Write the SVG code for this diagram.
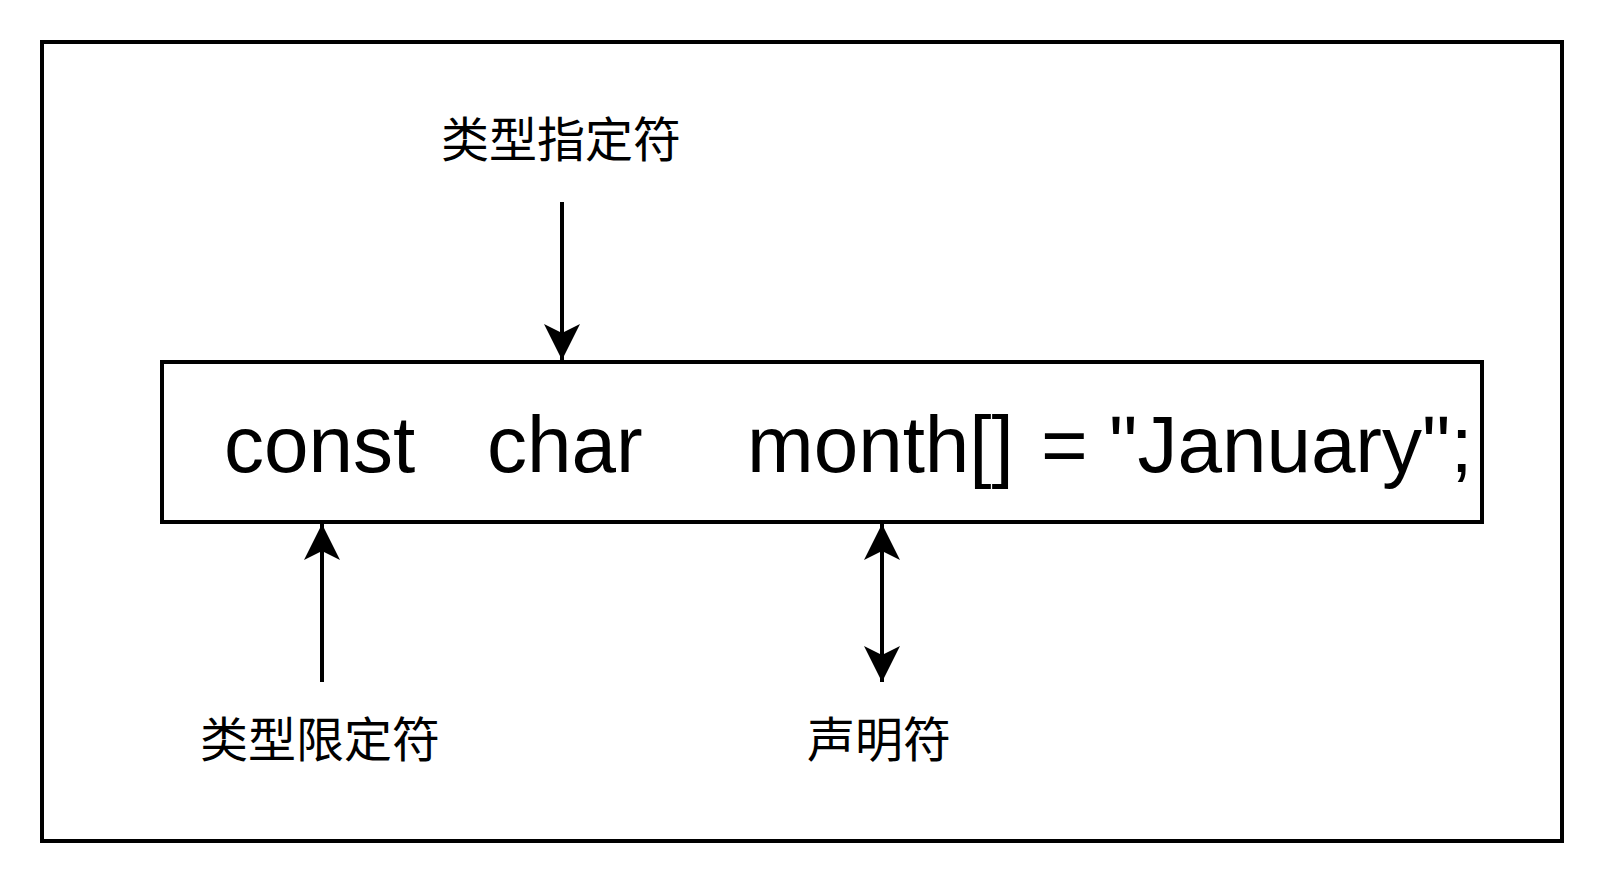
<svg xmlns="http://www.w3.org/2000/svg" width="1604" height="884" viewBox="0 0 1604 884">
<style>
.box{fill:#fff;stroke:#000;stroke-width:4}
.code{font-family:"Liberation Sans",Arial,sans-serif;font-size:80px;fill:#000}
.lbl{font-family:"Noto Sans CJK SC","Liberation Sans",sans-serif;font-size:48px;font-weight:400;fill:#000;text-anchor:middle}
.edge{stroke:#000;stroke-width:4;fill:none}
</style>
<defs>
<marker id="ah" markerUnits="userSpaceOnUse" viewBox="0 0 40 40" refX="36" refY="20" markerWidth="40" markerHeight="40" orient="auto-start-reverse">
<path d="M0,2 L36,20 L0,38 L9,20 Z" fill="#000"/>
</marker>
</defs>
<rect width="1604" height="884" fill="#fff"/>
<g id="frame"><rect class="box" x="42" y="42" width="1520" height="799"/></g>
<g id="code">
<rect class="box" x="162" y="362" width="1320" height="160"/>
<text class="code" y="472"><tspan x="224">const</tspan><tspan x="487">char</tspan><tspan x="747">month[]</tspan><tspan x="1041">=</tspan><tspan x="1109">"January";</tspan></text>
</g>
<g id="spec"><text class="lbl" x="561" y="157">类型指定符</text></g>
<g id="qual"><text class="lbl" x="320" y="757">类型限定符</text></g>
<g id="decl"><text class="lbl" x="879" y="757">声明符</text></g>
<g id="connectors">
<line class="edge" x1="562" y1="202" x2="562" y2="360" marker-end="url(#ah)"/>
<line class="edge" x1="322" y1="682" x2="322" y2="524" marker-end="url(#ah)"/>
<line class="edge" x1="882" y1="524" x2="882" y2="682" marker-start="url(#ah)" marker-end="url(#ah)"/>
</g>
</svg>
